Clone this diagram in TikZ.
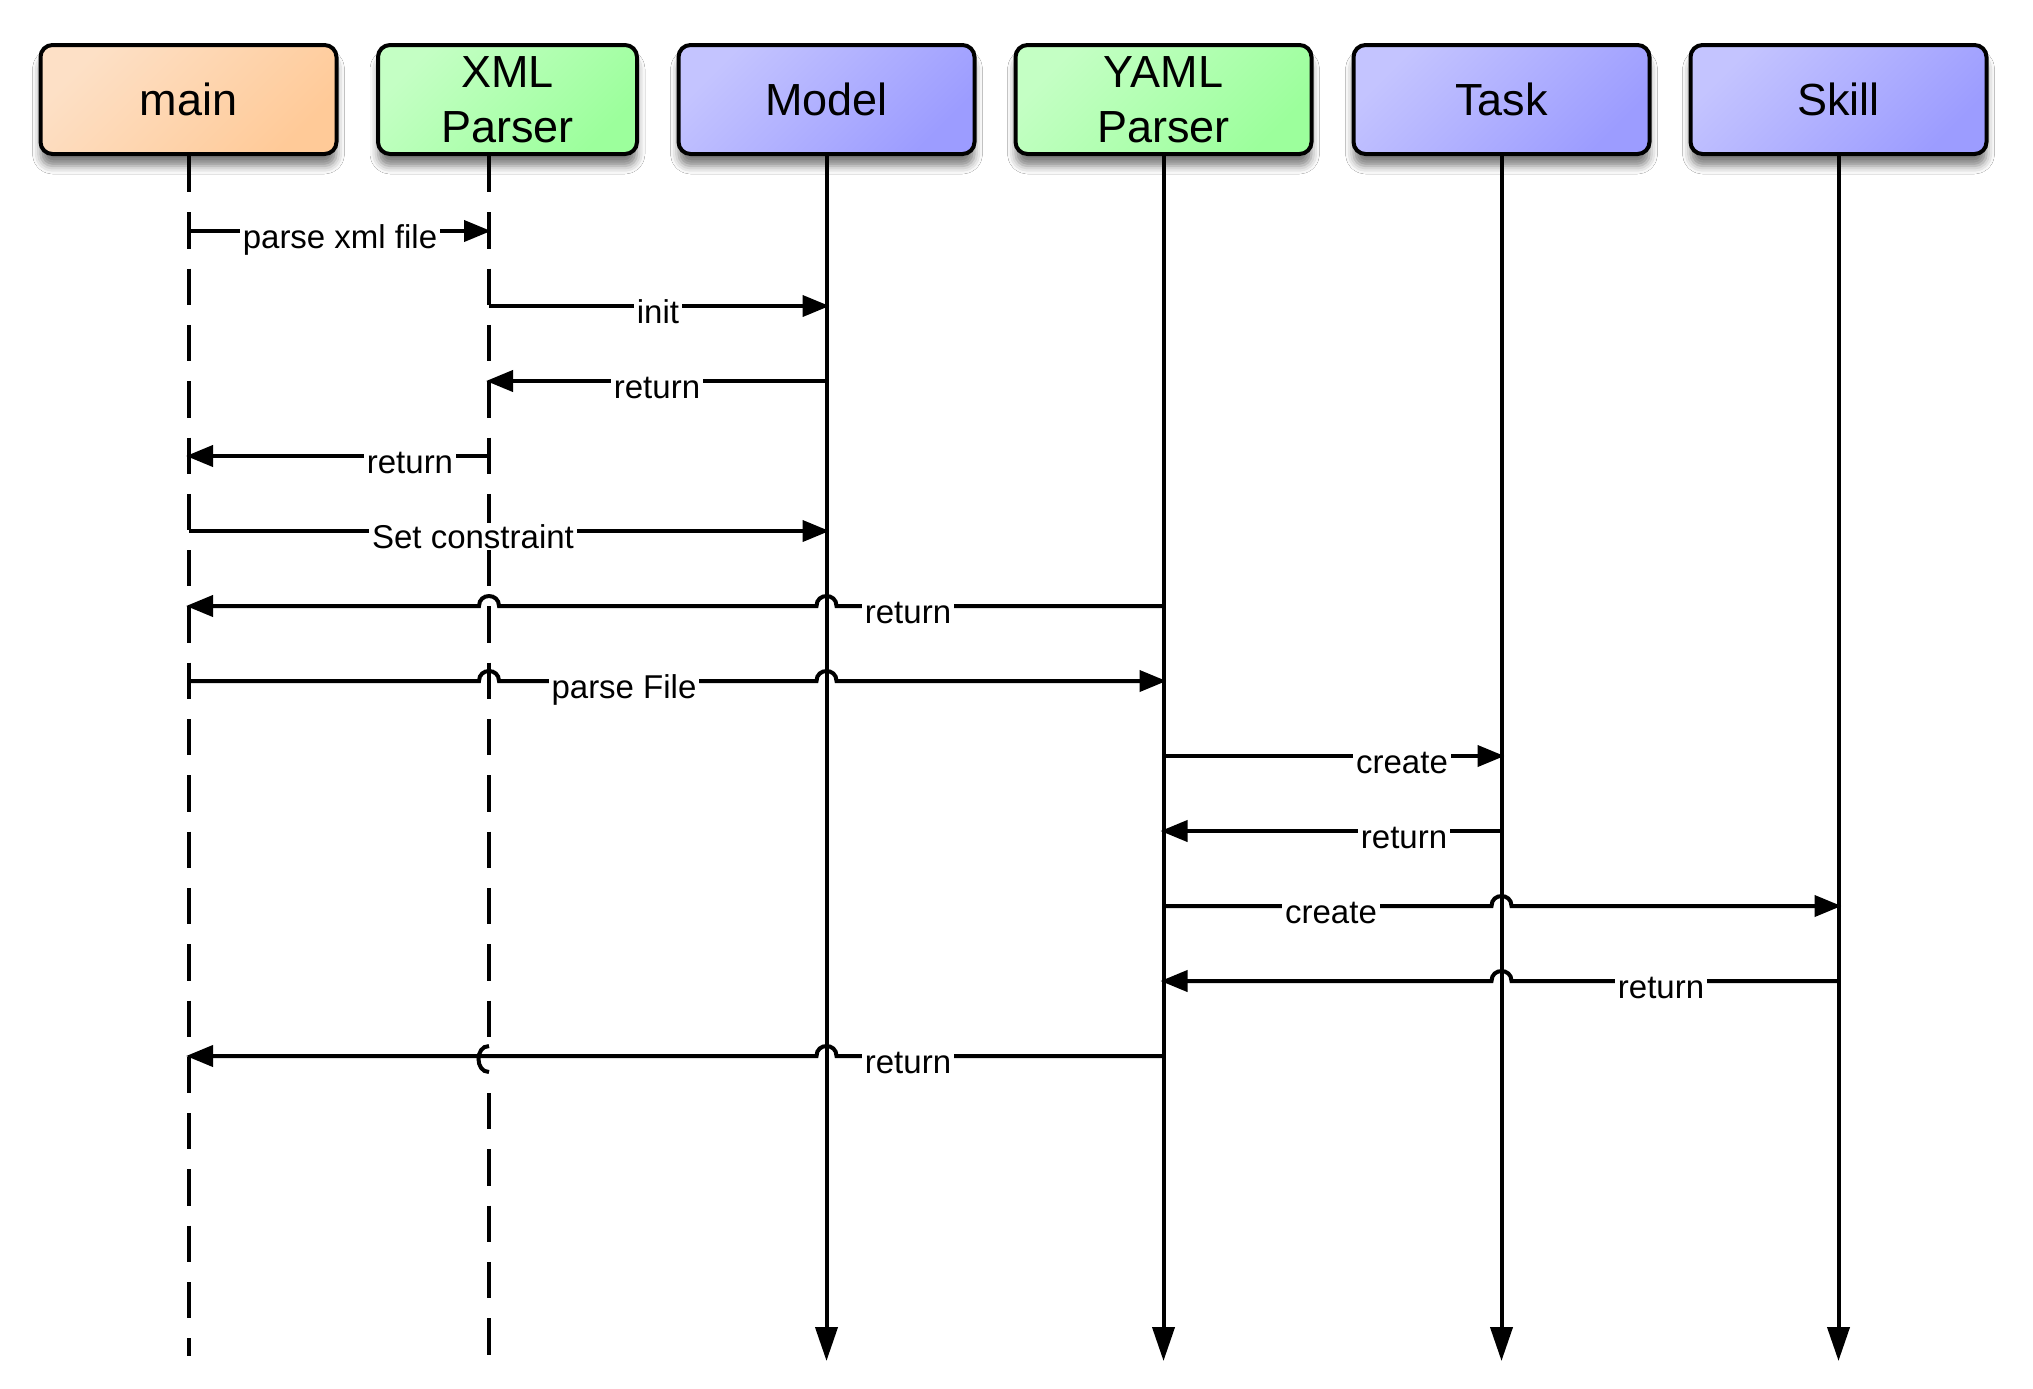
\documentclass[tikz,border=0pt]{standalone}
\usepackage{fontspec}
\setmainfont{Liberation Sans}
\usetikzlibrary{arrows.meta,shadows.blur,calc}
\definecolor{orA}{HTML}{FDE0C6}
\definecolor{orB}{HTML}{FFCA98}
\definecolor{grA}{HTML}{C4FFC4}
\definecolor{grB}{HTML}{9CFF9C}
\definecolor{blA}{HTML}{C4C4FF}
\definecolor{blB}{HTML}{9C9CFF}
\begin{document}
\begin{tikzpicture}[x=0.5pt,y=-0.5pt,
  actor/.style={draw=black, line width=2pt, rounded corners=6pt,
    minimum height=54.5pt, minimum width=148pt, align=center, inner sep=0pt,
    font=\fontsize{22.5pt}{27.5pt}\selectfont, shading angle=45,
    blur shadow={shadow xshift=0pt, shadow yshift=-6pt, shadow blur radius=4pt, shadow opacity=50}},
  orbox/.style={actor, top color=orA, bottom color=orB, shading angle=45},
  grbox/.style={actor, top color=grA, bottom color=grB, shading angle=45},
  blbox/.style={actor, top color=blA, bottom color=blB, shading angle=45},
  msg/.style={line width=2pt, -{Triangle[length=13.5pt,width=10.5pt]}},
  solidlife/.style={line width=2pt, -{Triangle[length=17pt,width=11pt]}},
  dashlife/.style={line width=2pt, dash pattern=on 18.15pt off 10pt},
  lbl/.style={fill=white, inner xsep=1.5pt, inner ysep=0.5pt, anchor=base,
    font=\fontsize{16.5pt}{19pt}\selectfont}]
\useasboundingbox (0,0) rectangle (2033,1388);
\fill[white] (0,0) rectangle (2033,1388);

% actors
\node[orbox] (main)  at (188.5,99.5) {main};
\node[grbox, minimum width=129.5pt] (xml) at (507.5,99.5) {XML\\Parser};
\node[blbox] (model) at (826.5,99.5) {Model};
\node[grbox] (yaml)  at (1163.5,99.5) {YAML\\Parser};
\node[blbox] (task)  at (1501.5,99.5) {Task};
\node[blbox] (skill) at (1838.5,99.5) {Skill};

% lifeline tops and ends
\coordinate (Lmain)  at (189,156);
\coordinate (Lxml)   at (489,156);
\coordinate (Lmodel) at (826.5,156);
\coordinate (Lyaml)  at (1163.5,156);
\coordinate (Ltask)  at (1501.5,156);
\coordinate (Lskill) at (1838.5,156);
\coordinate (dend) at (0,1356);
\coordinate (send) at (0,1361);

% rows
\foreach \i in {1,...,12} {
  \coordinate (r\i) at (0,{231+75*(\i-1)});
}

% lifelines
\draw[dashlife] (Lmain) -- (Lmain |- dend);
\draw[dashlife] (Lxml) -- ($(Lxml |- r12)+(0,-14)$);
\draw[line width=2pt] ($(Lxml |- r12)+(0,-10)$) .. controls +(-14,0) and +(-14,0) .. ($(Lxml |- r12)+(0,16)$);
\draw[dashlife] ($(Lxml |- r12)+(0,37)$) -- (Lxml |- dend);
\draw[solidlife] (Lmodel) -- (Lmodel |- send);
\draw[solidlife] (Lyaml) -- (Lyaml |- send);
\draw[solidlife] (Ltask) -- (Ltask |- send);
\draw[solidlife] (Lskill) -- (Lskill |- send);

% messages
\draw[msg] (Lmain |- r1) -- ($(Lxml |- r1)+(2,0)$);
\draw[msg] (Lxml |- r2) -- ($(Lmodel |- r2)+(3,0)$);
\draw[msg] (Lmodel |- r3) -- ($(Lxml |- r3)+(-3,0)$);
\draw[msg] (Lxml |- r4) -- ($(Lmain |- r4)+(-3,0)$);
\draw[msg] (Lmain |- r5) -- ($(Lmodel |- r5)+(3,0)$);
\draw[msg] (Lyaml |- r6) -- ($(Lmodel |- r6)+(10,0)$)
  .. controls +(0,-13.3) and +(0,-13.3) .. ($(Lmodel |- r6)+(-10,0)$)
  -- ($(Lxml |- r6)+(10,0)$)
  .. controls +(0,-13.3) and +(0,-13.3) .. ($(Lxml |- r6)+(-10,0)$)
  -- ($(Lmain |- r6)+(-3,0)$);
\draw[msg] (Lmain |- r7) -- ($(Lxml |- r7)+(-10,0)$)
  .. controls +(0,-13.3) and +(0,-13.3) .. ($(Lxml |- r7)+(10,0)$)
  -- ($(Lmodel |- r7)+(-10,0)$)
  .. controls +(0,-13.3) and +(0,-13.3) .. ($(Lmodel |- r7)+(10,0)$)
  -- ($(Lyaml |- r7)+(3,0)$);
\draw[msg] (Lyaml |- r8) -- ($(Ltask |- r8)+(3,0)$);
\draw[msg] (Ltask |- r9) -- ($(Lyaml |- r9)+(-3,0)$);
\draw[msg] (Lyaml |- r10) -- ($(Ltask |- r10)+(-10,0)$)
  .. controls +(0,-13.3) and +(0,-13.3) .. ($(Ltask |- r10)+(10,0)$)
  -- ($(Lskill |- r10)+(3,0)$);
\draw[msg] (Lskill |- r11) -- ($(Ltask |- r11)+(10,0)$)
  .. controls +(0,-13.3) and +(0,-13.3) .. ($(Ltask |- r11)+(-10,0)$)
  -- ($(Lyaml |- r11)+(-3,0)$);
\draw[msg] (Lyaml |- r12) -- ($(Lmodel |- r12)+(10,0)$)
  .. controls +(0,-13.3) and +(0,-13.3) .. ($(Lmodel |- r12)+(-10,0)$)
  -- ($(Lmain |- r12)+(-3,0)$);

% labels
\node[lbl] (t1)  at (340,248)  {parse xml file};
\node[lbl] (t2)  at (658,323)  {init};
\node[lbl] (t3)  at (657,398)  {return};
\node[lbl] (t4)  at (410,473)  {return};
\node[lbl] (t5)  at (473,548)  {Set constraint};
\node[lbl] (t6)  at (908,623)  {return};
\node[lbl] (t7)  at (624,698)  {parse File};
\node[lbl] (t8)  at (1402,773) {create};
\node[lbl] (t9)  at (1404,848) {return};
\node[lbl] (t10) at (1331,923) {create};
\node[lbl] (t11) at (1661,998) {return};
\node[lbl] (t12) at (908,1073) {return};
\end{tikzpicture}
\end{document}
